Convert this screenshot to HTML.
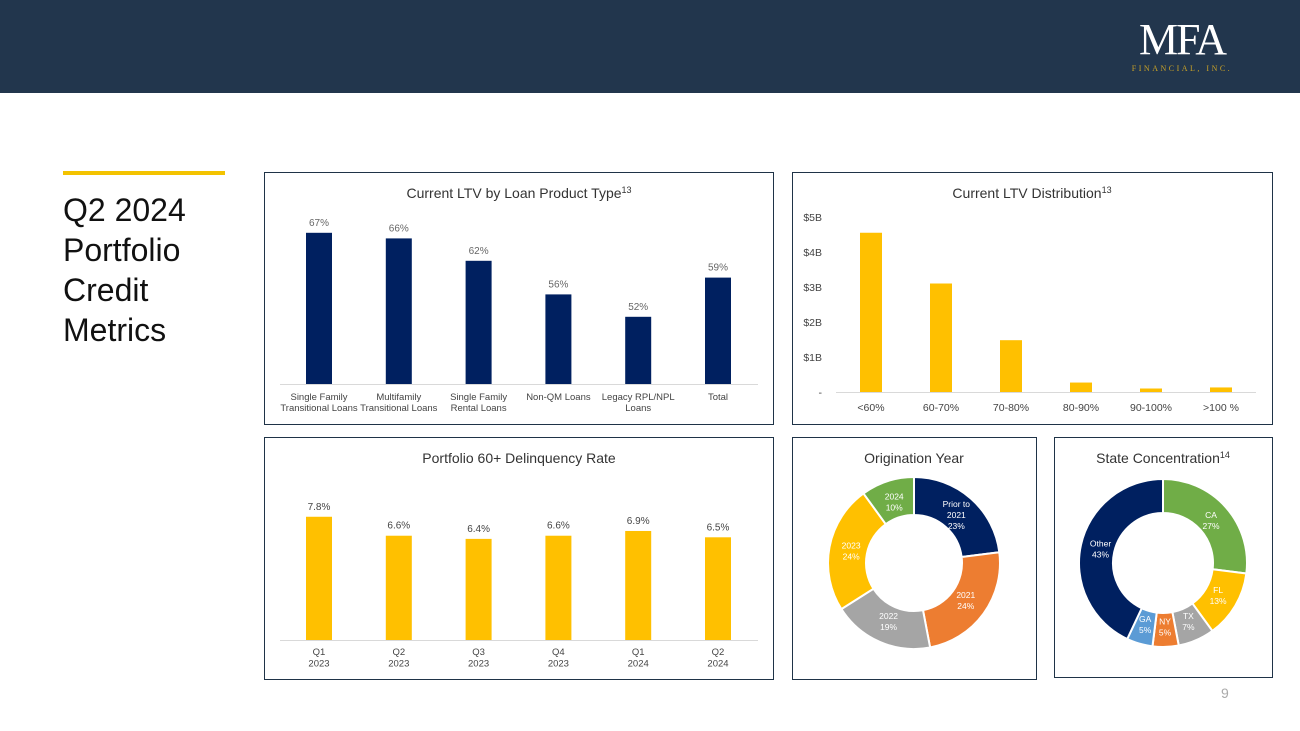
<!DOCTYPE html>
<html><head><meta charset="utf-8">
<style>
body{margin:0;width:1300px;height:731px;background:#fff;position:relative;overflow:hidden;font-family:"Liberation Sans",sans-serif;}
.abs{position:absolute;}
.panel{position:absolute;border:1.5px solid #1f3347;box-sizing:border-box;}
svg text{font-family:"Liberation Sans",sans-serif;}
</style></head><body>
<div class="abs" style="left:0;top:0;width:1300px;height:93px;background:#22364d;"></div>
<div class="abs" style="left:1112px;top:20px;width:140px;text-align:center;">
  <div style="font-family:'Liberation Serif',serif;color:#fff;font-size:44px;line-height:40px;letter-spacing:-2px;">MFA</div>
  <div style="font-family:'Liberation Serif',serif;color:#c9a227;font-size:8px;letter-spacing:2.5px;margin-top:4px;">FINANCIAL, INC.</div>
</div>
<div class="abs" style="left:63px;top:171px;width:162px;height:4px;background:#f3c300;"></div>
<div class="abs" style="left:63px;top:190px;font-size:32px;line-height:40px;color:#111;">Q2 2024<br>Portfolio<br>Credit<br>Metrics</div>
<div class="abs" style="left:1221px;top:685px;font-size:14px;color:#aaa;">9</div>

<div class="panel" style="left:264px;top:172px;width:510px;height:253px;"></div>
<div class="panel" style="left:792px;top:172px;width:481px;height:253px;"></div>
<div class="panel" style="left:264px;top:437px;width:510px;height:243px;"></div>
<div class="panel" style="left:792px;top:437px;width:245px;height:243px;"></div>
<div class="panel" style="left:1054px;top:437px;width:219px;height:241px;"></div>

<svg class="abs" style="left:0;top:0" width="1300" height="731" id="svg">
<text x="519" y="198" text-anchor="middle" font-size="14" fill="#333">Current LTV by Loan Product Type<tspan font-size="9" dy="-5">13</tspan></text>
<text x="1032" y="198" text-anchor="middle" font-size="14" fill="#333">Current LTV Distribution<tspan font-size="9" dy="-5">13</tspan></text>
<text x="519" y="463" text-anchor="middle" font-size="14" fill="#333">Portfolio 60+ Delinquency Rate</text>
<text x="914" y="463" text-anchor="middle" font-size="14" fill="#333">Origination Year</text>
<text x="1163" y="463" text-anchor="middle" font-size="14" fill="#333">State Concentration<tspan font-size="9" dy="-5">14</tspan></text>
</svg>
<script>
const productCats=[["Single Family","Transitional Loans"],["Multifamily","Transitional Loans"],["Single Family","Rental Loans"],["Non-QM Loans"],["Legacy RPL/NPL","Loans"],["Total"]];
const productLtv=[67,66,62,56,52,59];
const distCats=["<60%","60-70%","70-80%","80-90%","90-100%",">100 %"];
const distValues=[4.55,3.1,1.48,0.27,0.1,0.13];
const distTicks=["-","$1B","$2B","$3B","$4B","$5B"];
const delqCats=[["Q1","2023"],["Q2","2023"],["Q3","2023"],["Q4","2023"],["Q1","2024"],["Q2","2024"]];
const delqValues=[7.8,6.6,6.4,6.6,6.9,6.5];
const origLabels=[["Prior to","2021"],["2021"],["2022"],["2023"],["2024"]];
const origValues=[23,24,19,24,10];
const origColors=["#002060","#ed7d31","#a5a5a5","#ffc000","#70ad47"];
const stateLabels=["CA","FL","TX","NY","GA","Other"];
const stateValues=[27,13,7,5,5,43];
const stateColors=["#70ad47","#ffc000","#a5a5a5","#ed7d31","#5b9bd5","#002060"];

const svg=document.getElementById('svg');const NS="http://www.w3.org/2000/svg";
function mk(t,a,txt){const e=document.createElementNS(NS,t);for(const k in a)e.setAttribute(k,a[k]);if(txt!==undefined)e.textContent=txt;svg.appendChild(e);return e;}
function lines(x,y,arr,fs,fill,lh){const t=mk('text',{x:x,y:y,'text-anchor':'middle','font-size':fs,fill:fill});arr.forEach((s,i)=>{const sp=document.createElementNS(NS,'tspan');sp.setAttribute('x',x);sp.setAttribute('dy',i?lh:0);sp.textContent=s;t.appendChild(sp);});return t;}
const xc=i=>319+i*79.8;
// chart 1
const y1=v=>384-(v-40)*5.6;
productLtv.forEach((v,i)=>{
 const r=mk('rect',{x:xc(i)-13,y:y1(v),width:26,height:384-y1(v),fill:'#002060'});
 
 mk('text',{x:xc(i),y:y1(v)-7,'text-anchor':'middle','font-size':10,fill:'#666'},v+'%');
 const l=lines(xc(i),400,productCats[i],9.5,'#444',11);
});
mk('line',{x1:280,x2:758,y1:384.5,y2:384.5,stroke:'#d9d9d9'});
// chart 2
const x2=i=>871+i*70;const y2=v=>392-v*35;
distTicks.forEach((t,i)=>mk('text',{x:822,y:y2(i)+4,'text-anchor':'end','font-size':10.5,fill:'#444'},t));
distValues.forEach((v,i)=>{
 const r=mk('rect',{x:x2(i)-11,y:y2(v),width:22,height:392-y2(v),fill:'#ffc000'});
 
 mk('text',{x:x2(i),y:411,'text-anchor':'middle','font-size':10.5,fill:'#444'},distCats[i]);
});
mk('line',{x1:836,x2:1256,y1:392.5,y2:392.5,stroke:'#d9d9d9'});
// chart 3
const y3=v=>640-v*15.8;
delqValues.forEach((v,i)=>{
 const r=mk('rect',{x:xc(i)-13,y:y3(v),width:26,height:640-y3(v),fill:'#ffc000'});
 
 mk('text',{x:xc(i),y:y3(v)-7,'text-anchor':'middle','font-size':10,fill:'#444'},v.toFixed(1)+'%');
 lines(xc(i),655,delqCats[i],9.5,'#444',11.5);
});
mk('line',{x1:280,x2:758,y1:640.5,y2:640.5,stroke:'#d9d9d9'});
// donuts
function donut(cx,cy,ro,ri,vals,cols,labs,name){
 const tot=vals.reduce((a,b)=>a+b,0);let a0=0;const pending=[];
 const p=(a,r)=>[cx+r*Math.sin(a),cy-r*Math.cos(a)];
 vals.forEach((v,i)=>{
  const a1=a0+v/tot*2*Math.PI;
  const lg=(a1-a0)>Math.PI?1:0;
  const [x0,y0]=p(a0,ro),[x1,yy1]=p(a1,ro),[x3,y3_]=p(a1,ri),[x4,y4]=p(a0,ri);
  const d=`M${x0},${y0}A${ro},${ro} 0 ${lg} 1 ${x1},${yy1}L${x3},${y3_}A${ri},${ri} 0 ${lg} 0 ${x4},${y4}Z`;
  const s=mk('path',{d:d,fill:cols[i],stroke:'#fff','stroke-width':2});
  
  pending.push([(a0+a1)/2,i,v]);
  a0=a1;
 });
 pending.forEach(([am,i,v])=>{
  const [lx,ly]=p(am,(ro+ri)/2-3);
  const L=(Array.isArray(labs[i])?labs[i]:[labs[i]]).concat([v+'%']);
  lines(lx,ly-(L.length-1)*5.5+3,L,8.5,'#fff',11);
 });
}
donut(914,563,86,48,origValues,origColors,origLabels,'origination');
donut(1163,563,84,50,stateValues,stateColors,stateLabels,'state');
</script>
</body></html>
